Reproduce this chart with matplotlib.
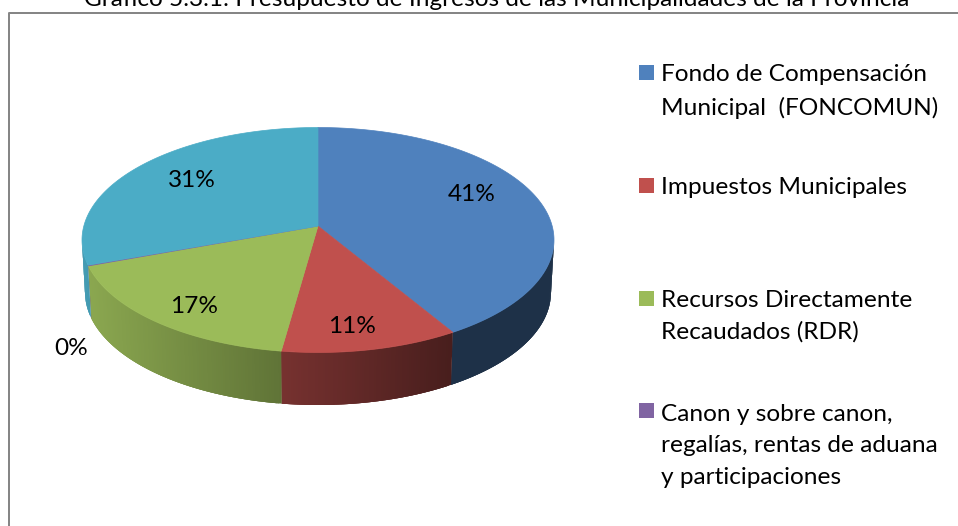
import numpy as np
import matplotlib
matplotlib.use("Agg")
import matplotlib.pyplot as plt
from matplotlib.colors import to_rgb

title = "Gráfico 5.3.1: Presupuesto de Ingresos de las Municipalidades de la Provincia"
categories = ["Fondo de Compensación\nMunicipal  (FONCOMUN)",
              "Impuestos Municipales",
              "Recursos Directamente\nRecaudados (RDR)",
              "Canon y sobre canon,\nregalías, rentas de aduana\ny participaciones",
              "Otros"]
values = [41.4, 10.8, 17.2, 0.1, 30.5]
pct_labels = ["41%", "11%", "17%", "0%", "31%"]
colors = ["#4F81BD", "#C0504D", "#9BBB59", "#8064A2", "#4BACC6"]

plt.rcParams['font.family'] = ['Lato', 'DejaVu Sans']
W, H = 958, 526
FS = 17.6
fig = plt.figure(figsize=(W / 100, H / 100), dpi=100)
ax = fig.add_axes([0, 0, 1, 1])
ax.set_xlim(0, W)
ax.set_ylim(H, 0)
ax.axis("off")

# pie geometry (pixels)
CX, CY, RX, RY = 318, 240, 236, 112.5
DEPTH, BOT = 52.5, 0.987
A = 0.124  # perspective shift of the apex


def project(theta, scale=1.0, dy=0.0):
    x, y = np.sin(theta), np.cos(theta)
    den = 1 + A * y
    return CX + RX * scale * x * np.sqrt(1 - A ** 2) / den, CY + dy - RY * (y + A) / den


def shade(px):
    return np.clip(0.90 - (px - 85) * (0.52 / 365), 0.38, 1)


edges = np.radians(np.concatenate([[0], np.cumsum(values)]) * 360 / np.sum(values))
front_limit = np.arccos(-A)

# side wall: overlapping strips so no seams show
for i, col in enumerate(colors):
    lo = max(edges[i], front_limit)
    hi = min(edges[i + 1], 2 * np.pi - front_limit)
    if hi <= lo:
        continue
    t = np.linspace(lo, hi, max(2, int((hi - lo) * 110)))
    base = np.array(to_rgb(col))
    for j in range(len(t) - 1):
        tt = np.linspace(t[j], t[min(j + 3, len(t) - 1)], 5)
        xa, ya = project(tt)
        xb, yb = project(tt, BOT, DEPTH)
        c = tuple(base * shade(project(np.array([t[j]]))[0][0]))
        ax.fill(np.r_[xa, xb[::-1]], np.r_[ya, yb[::-1]], color=c, lw=0, zorder=1)

# top face
apex_x, apex_y = CX, CY - RY * A
for i, col in enumerate(colors):
    n = max(2, int((edges[i + 1] - edges[i]) * 90))
    t = np.linspace(edges[i], edges[i + 1], n)
    x, y = project(t)
    ax.fill(np.r_[apex_x, x], np.r_[apex_y, y], color=col, lw=0.5, zorder=2)

# data labels
label_xy = [(472, 200.7), (352, 332.7), (194, 313.3), (71, 355), (192, 187.3)]
for (lx, ly), s in zip(label_xy, pct_labels):
    ax.text(lx, ly, s, fontsize=FS, color="black", ha="center", va="baseline", zorder=3)

# legend
leg_y = [72.5, 185, 298.5, 410]
leg_base = [81.7, 194, 306, 418]
LINE = 33
for name, col, y, b in zip(categories[:4], colors[:4], leg_y, leg_base):
    ax.fill([639, 654, 654, 639], [y - 7.5, y - 7.5, y + 7.5, y + 7.5], color=col, lw=0, zorder=3)
    ax.text(661, b + LINE * name.count("\n"), name, fontsize=FS, color="black",
            ha="left", va="baseline", linespacing=1.62, zorder=3)

# frame
ax.plot([9, 9, W + 2], [H + 2, 13, 13], color="#868686", lw=1.44, zorder=4)

# title (clipped at the figure top as in the source)
ax.text(497, 5.5, title, fontsize=FS, color="black", ha="center", va="baseline")

fig.savefig("out.png", dpi=100)
